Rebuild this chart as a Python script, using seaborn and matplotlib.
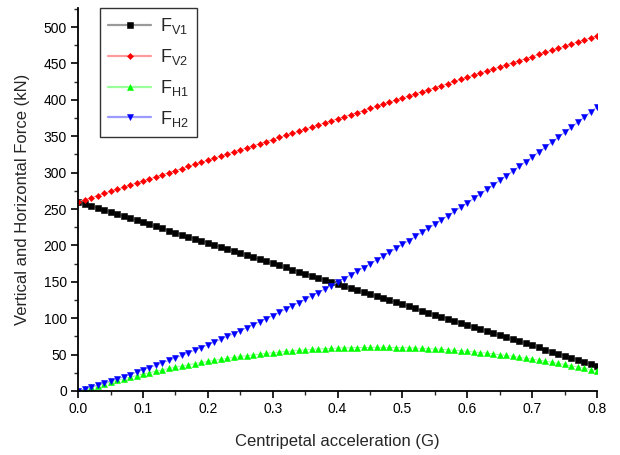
import numpy as np
import pandas as pd
import seaborn as sns
import matplotlib
matplotlib.use("Agg")
import matplotlib.pyplot as plt
from matplotlib.ticker import MultipleLocator

# Centripetal acceleration (G), 0.00 ... 0.80 in steps of 0.01
accel = [round(k * 0.01, 2) for k in range(81)]

# Vertical wheel force, inner side (kN)
f_v1 = [260.0, 257.2, 254.4, 251.5, 248.7, 245.9, 243.1, 240.3, 237.4, 234.6,
        231.8, 229.0, 226.2, 223.3, 220.5, 217.7, 214.9, 212.1, 209.2, 206.4,
        203.6, 200.8, 198.0, 195.1, 192.3, 189.5, 186.7, 183.9, 181.0, 178.2,
        175.4, 172.6, 169.8, 166.9, 164.1, 161.3, 158.5, 155.7, 152.8, 150.0,
        147.2, 144.4, 141.6, 138.7, 135.9, 133.1, 130.3, 127.5, 124.6, 121.8,
        119.0, 116.2, 113.4, 110.5, 107.7, 104.9, 102.1, 99.3, 96.4, 93.6,
        90.8, 88.0, 85.2, 82.3, 79.5, 76.7, 73.9, 71.1, 68.2, 65.4,
        62.6, 59.8, 57.0, 54.1, 51.3, 48.5, 45.7, 42.9, 40.0, 37.2,
        34.4]

# Vertical wheel force, outer side (kN)
f_v2 = [260.0, 262.9, 265.7, 268.6, 271.4, 274.3, 277.1, 280.0, 282.8, 285.7,
        288.5, 291.4, 294.2, 297.1, 299.9, 302.8, 305.6, 308.5, 311.3, 314.2,
        317.0, 319.9, 322.7, 325.6, 328.4, 331.3, 334.1, 337.0, 339.8, 342.7,
        345.5, 348.4, 351.2, 354.1, 356.9, 359.8, 362.6, 365.5, 368.3, 371.2,
        374.0, 376.9, 379.7, 382.6, 385.4, 388.3, 391.1, 394.0, 396.8, 399.7,
        402.5, 405.4, 408.2, 411.1, 413.9, 416.8, 419.6, 422.5, 425.3, 428.2,
        431.0, 433.9, 436.7, 439.6, 442.4, 445.3, 448.1, 451.0, 453.8, 456.7,
        459.5, 462.4, 465.2, 468.1, 470.9, 473.8, 476.6, 479.5, 482.3, 485.2,
        488.0]

# Horizontal wheel force, inner side (kN)
f_h1 = [0.0, 2.6, 5.1, 7.5, 9.9, 12.3, 14.6, 16.8, 19.0, 21.1,
        23.2, 25.2, 27.1, 29.0, 30.9, 32.7, 34.4, 36.1, 37.7, 39.2,
        40.7, 42.2, 43.6, 44.9, 46.2, 47.4, 48.5, 49.6, 50.7, 51.7,
        52.6, 53.5, 54.3, 55.1, 55.8, 56.5, 57.1, 57.6, 58.1, 58.5,
        58.9, 59.2, 59.5, 59.7, 59.8, 59.9, 59.9, 59.9, 59.8, 59.7,
        59.5, 59.3, 58.9, 58.6, 58.2, 57.7, 57.2, 56.6, 55.9, 55.2,
        54.5, 53.7, 52.8, 51.9, 50.9, 49.9, 48.8, 47.6, 46.4, 45.1,
        43.8, 42.4, 41.0, 39.5, 38.0, 36.4, 34.7, 33.0, 31.2, 29.4,
        27.5]

# Horizontal wheel force, outer side (kN)
f_h2 = [0.0, 2.6, 5.3, 8.1, 10.9, 13.7, 16.6, 19.6, 22.6, 25.7,
        28.9, 32.0, 35.3, 38.6, 42.0, 45.4, 48.9, 52.4, 56.0, 59.7,
        63.4, 67.2, 71.0, 74.9, 78.8, 82.8, 86.9, 91.0, 95.1, 99.4,
        103.7, 108.0, 112.4, 116.8, 121.3, 125.9, 130.5, 135.2, 140.0, 144.7,
        149.6, 154.5, 159.5, 164.5, 169.6, 174.7, 179.9, 185.2, 190.5, 195.8,
        201.3, 206.7, 212.3, 217.9, 223.5, 229.2, 235.0, 240.8, 246.7, 252.6,
        258.6, 264.6, 270.8, 276.9, 283.1, 289.4, 295.7, 302.1, 308.6, 315.1,
        321.7, 328.3, 334.9, 341.7, 348.5, 355.3, 362.2, 369.2, 376.2, 383.3,
        390.4]

labels = [r"F$_{\mathregular{V1}}$", r"F$_{\mathregular{V2}}$",
          r"F$_{\mathregular{H1}}$", r"F$_{\mathregular{H2}}$"]

sns.set_style("ticks")
plt.rcParams["font.family"] = ["Liberation Sans", "DejaVu Sans"]
plt.rcParams["mathtext.fontset"] = "custom"
plt.rcParams["mathtext.rm"] = "Liberation Sans"

fig = plt.figure(figsize=(6.2, 4.55), dpi=100)
ax = fig.add_axes([0.126, 0.1407, 0.837, 0.8413])

series = [
    (f_v1, "#000000", "#9A9A9A", "s", 3.8),
    (f_v2, "#FF0000", "#FF9A9A", "D", 3.1),
    (f_h1, "#00FF00", "#9AFF9A", "^", 4.3),
    (f_h2, "#0000FF", "#9A9AFF", "v", 4.3),
]
for (vals, col, lcol, mk, ms), lab in zip(series, labels):
    df = pd.DataFrame({"a": accel, "f": vals})
    sns.lineplot(data=df, x="a", y="f", ax=ax, color=lcol, linewidth=0.7,
                 marker=mk, markersize=ms, markerfacecolor=col,
                 markeredgecolor=col, markeredgewidth=0.4, label=lab)

ax.set_xlim(0, 0.8)
ax.set_ylim(0, 526)
ax.xaxis.set_major_locator(MultipleLocator(0.1))
ax.xaxis.set_minor_locator(MultipleLocator(0.05))
ax.yaxis.set_major_locator(MultipleLocator(50))
ax.yaxis.set_minor_locator(MultipleLocator(25))
ax.tick_params(which="major", direction="out", length=5, width=1.2,
               labelsize=10, colors="black", pad=3)
ax.tick_params(which="minor", direction="out", length=3, width=1.0)
for s in ("left", "bottom"):
    ax.spines[s].set_linewidth(1.3)
    ax.spines[s].set_color("black")
sns.despine(ax=ax)

ax.set_xlabel("Centripetal acceleration (G)", fontsize=12, labelpad=13)
ax.set_ylabel("Vertical and Horizontal Force (kN)", fontsize=12, labelpad=10)

leg = ax.legend(loc="upper left", bbox_to_anchor=(0.042, 1.0), fontsize=13,
                frameon=True, fancybox=False, edgecolor="black",
                handlelength=2.4, labelspacing=0.6, borderpad=0.45,
                handletextpad=0.5, borderaxespad=0.0)
leg.get_frame().set_linewidth(1.0)
for h in leg.legend_handles:
    h.set_linewidth(1.6)

fig.savefig("out.png", dpi=100)
